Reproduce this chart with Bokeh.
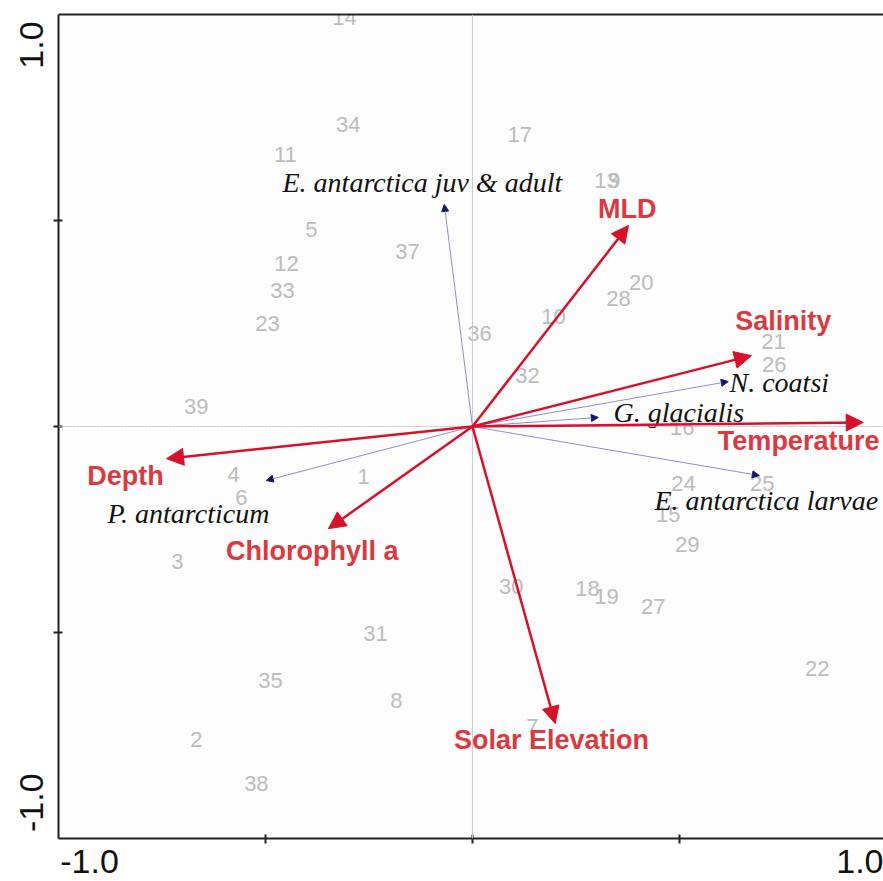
from bokeh.plotting import figure
from bokeh.models import (ColumnDataSource, Range1d, FixedTicker, CustomJSTickFormatter,
                          Span, Arrow, NormalHead, LinearAxis)
from bokeh.core.properties import value
from bokeh.embed import file_html
from bokeh.resources import INLINE

# ---- data ----
site_labels = [str(i) for i in range(1, 40)]
site_x = [-0.263, -0.667, -0.713, -0.577, -0.389, -0.558, 0.145, -0.184, 0.343, 0.196,
          -0.452, -0.449, 0.324, -0.309, 0.473, 0.507, 0.114, 0.278, 0.324, 0.408,
          0.727, 0.833, -0.495, 0.510, 0.700, 0.729, 0.437, 0.353, 0.519, 0.094,
          -0.234, 0.133, -0.459, -0.300, -0.488, 0.017, -0.157, -0.522, -0.667]
site_y = [-0.121, -0.760, -0.328, -0.117, 0.478, -0.172, -0.728, -0.665, 0.597, 0.267,
          0.660, 0.396, 0.597, 0.993, -0.214, -0.002, 0.709, -0.393, -0.413, 0.350,
          0.206, -0.587, 0.250, -0.138, -0.138, 0.150, -0.437, 0.311, -0.286, -0.388,
          -0.502, 0.124, 0.330, 0.733, -0.617, 0.226, 0.425, -0.867, 0.049]

env_names = ["MLD", "Salinity", "Temperature", "Depth", "Chlorophyll a", "Solar Elevation"]
env_x = [0.377, 0.674, 0.944, -0.739, -0.348, 0.200]
env_y = [0.488, 0.172, 0.010, -0.078, -0.248, -0.721]
env_label_x = [0.374, 0.751, 0.788, -0.838, -0.387, 0.191]
env_label_y = [0.527, 0.255, -0.036, -0.121, -0.301, -0.760]

sp_names = ["E. antarctica juv & adult", "N. coatsi", "G. glacialis",
            "E. antarctica larvae", "P. antarcticum"]
sp_x = [-0.068, 0.618, 0.304, 0.693, -0.498]
sp_y = [0.539, 0.109, 0.022, -0.119, -0.131]
sp_label_x = [-0.121, 0.621, 0.341, 0.710, -0.686]
sp_label_y = [0.592, 0.107, 0.034, -0.180, -0.211]
sp_align = ["center", "left", "left", "center", "center"]

# axis end labels and where they sit
x_label_pos = [-0.925, 0.94]
y_label_pos = [-0.913, 0.926]
axis_labels = ["-1.0", "1.0"]
inner_ticks = [-0.5, 0.0, 0.5]

# ---- figure ----
p = figure(width=883, height=881, output_backend="svg", toolbar_location=None,
           x_range=Range1d(-1.0, 0.993), y_range=Range1d(-1.0, 1.0),
           min_border_left=58, min_border_right=0, min_border_top=14, min_border_bottom=43)
p.grid.visible = False
p.background_fill_color = "#fdfdfd"
p.border_fill_color = "white"
p.outline_line_color = None

label_js = "const m = {%s}; const k = tick.toFixed(3); return (k in m) ? m[k] : '';"


def style_axis(ax, label_pos, orientation):
    ax.ticker = FixedTicker(ticks=label_pos, minor_ticks=inner_ticks)
    mapping = ", ".join("'%0.3f': '%s'" % (v, t) for v, t in zip(label_pos, axis_labels))
    ax.formatter = CustomJSTickFormatter(code=label_js % mapping)
    ax.axis_line_color = "#222222"
    ax.axis_line_width = 2
    ax.major_tick_line_color = None
    ax.major_tick_in = 0
    ax.major_tick_out = 5
    ax.minor_tick_line_color = "#222222"
    ax.minor_tick_line_width = 2
    ax.minor_tick_in = 4
    ax.minor_tick_out = 5
    ax.major_label_text_font = "Liberation Sans"
    ax.major_label_text_font_size = "34px"
    ax.major_label_text_color = "#111111"
    ax.major_label_orientation = orientation


style_axis(p.xaxis[0], x_label_pos, "horizontal")
p.xaxis[0].major_label_standoff = 6
style_axis(p.yaxis[0], y_label_pos, "vertical")
p.yaxis[0].major_label_standoff = 10

# top border
top = LinearAxis(ticker=FixedTicker(ticks=[]), axis_line_color="#222222", axis_line_width=2,
                 major_tick_line_color=None, minor_tick_line_color=None,
                 major_tick_out=0, major_tick_in=0, major_label_standoff=0)
top.formatter = CustomJSTickFormatter(code="return '';")
p.add_layout(top, "above")

# centre lines
p.add_layout(Span(location=0, dimension="height", line_color="#c9c9d2", line_width=1))
p.add_layout(Span(location=0, dimension="width", line_color="#bdbdbd", line_width=1,
                  line_dash="2 1"))

# site numbers
site_src = ColumnDataSource(dict(x=site_x, y=site_y, t=site_labels))
p.text(x="x", y="y", text="t", source=site_src, text_font=value("Liberation Sans"),
       text_font_size="22px", text_color="#bcbcbc", text_align="center",
       text_baseline="middle")

# species labels
sp_lab_src = ColumnDataSource(dict(x=sp_label_x, y=sp_label_y, t=sp_names, a=sp_align))
p.text(x="x", y="y", text="t", source=sp_lab_src, text_font=value("Liberation Serif"),
       text_font_style="italic", text_font_size="28px", text_color="#111111",
       text_align="a", text_baseline="middle")

# env labels
env_lab_src = ColumnDataSource(dict(x=env_label_x, y=env_label_y, t=env_names))
p.text(x="x", y="y", text="t", source=env_lab_src, text_font=value("Liberation Sans"),
       text_font_style="bold", text_font_size="27px", text_color="#d93a40",
       text_align="center", text_baseline="middle")

# species arrows
sp_src = ColumnDataSource(dict(x0=[0.0] * len(sp_x), y0=[0.0] * len(sp_y), x1=sp_x, y1=sp_y))
p.add_layout(Arrow(x_start="x0", y_start="y0", x_end="x1", y_end="y1", source=sp_src,
                   line_color="#8f8fc8", line_width=1,
                   end=NormalHead(size=7, fill_color="#14146e", line_color="#14146e")))

# env arrows
env_src = ColumnDataSource(dict(x0=[0.0] * len(env_x), y0=[0.0] * len(env_y), x1=env_x, y1=env_y))
p.add_layout(Arrow(x_start="x0", y_start="y0", x_end="x1", y_end="y1", source=env_src,
                   line_color="#d8112b", line_width=2.5,
                   end=NormalHead(size=17, fill_color="#d8112b", line_color="#d8112b",
                                  line_width=1)))

open("out.html", "w").write(file_html(p, INLINE))
